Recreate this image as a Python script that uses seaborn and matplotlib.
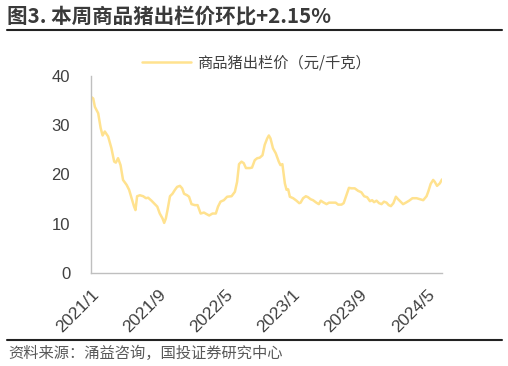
import matplotlib
matplotlib.use("Agg")
import matplotlib.pyplot as plt
import matplotlib.dates as mdates
import seaborn as sns
import pandas as pd

dates = [
    "2021-01-01", "2021-01-09", "2021-01-15", "2021-01-27", "2021-02-05", "2021-02-12",
    "2021-02-20", "2021-03-04", "2021-03-16", "2021-03-26", "2021-04-01", "2021-04-09",
    "2021-04-18", "2021-04-27", "2021-05-10", "2021-05-19", "2021-05-28", "2021-06-06",
    "2021-06-11", "2021-06-17", "2021-06-27", "2021-07-09", "2021-07-19", "2021-07-27",
    "2021-08-08", "2021-08-20", "2021-08-29", "2021-09-07", "2021-09-17", "2021-09-23",
    "2021-09-29", "2021-10-05", "2021-10-14", "2021-10-23", "2021-11-01", "2021-11-09",
    "2021-11-19", "2021-11-27", "2021-12-04", "2021-12-15", "2021-12-22", "2021-12-31",
    "2022-01-12", "2022-01-22", "2022-02-02", "2022-02-14", "2022-02-23", "2022-03-05",
    "2022-03-17", "2022-03-29", "2022-04-06", "2022-04-15", "2022-04-27", "2022-05-09",
    "2022-05-25", "2022-06-06", "2022-06-14", "2022-06-21", "2022-06-30", "2022-07-08",
    "2022-07-16", "2022-07-30", "2022-08-07", "2022-08-17", "2022-08-26", "2022-09-04",
    "2022-09-14", "2022-09-22", "2022-10-01", "2022-10-07", "2022-10-13", "2022-10-22",
    "2022-11-01", "2022-11-12", "2022-11-18", "2022-11-25", "2022-12-04", "2022-12-10",
    "2022-12-16", "2022-12-22", "2023-01-03", "2023-01-15", "2023-01-25", "2023-01-30",
    "2023-02-08", "2023-02-18", "2023-02-26", "2023-03-07", "2023-03-16", "2023-03-28",
    "2023-04-06", "2023-04-13", "2023-04-21", "2023-05-04", "2023-05-13", "2023-05-25",
    "2023-06-06", "2023-06-15", "2023-06-27", "2023-07-05", "2023-07-15", "2023-07-24",
    "2023-08-02", "2023-08-14", "2023-08-26", "2023-09-07", "2023-09-17", "2023-09-28",
    "2023-10-08", "2023-10-16", "2023-10-23", "2023-11-01", "2023-11-10", "2023-11-19",
    "2023-11-28", "2023-12-07", "2023-12-15", "2023-12-23", "2024-01-01", "2024-01-10",
    "2024-01-18", "2024-01-27", "2024-02-05", "2024-02-15", "2024-02-27", "2024-03-10",
    "2024-03-25", "2024-04-06", "2024-04-18", "2024-04-30", "2024-05-06", "2024-05-15",
    "2024-05-24", "2024-05-30", "2024-06-07", "2024-06-17", "2024-06-25",
]
prices = [
    35.7, 35.4, 33.7, 32.4, 29.4, 27.9,
    28.7, 27.7, 25.3, 22.6, 22.4, 23.3,
    21.9, 18.9, 17.9, 16.9, 15.2, 13.5,
    12.8, 15.6, 15.8, 15.6, 15.2, 15.3,
    14.7, 14.0, 13.5, 12.1, 11.1, 10.2,
    11.1, 12.8, 15.6, 16.1, 16.9, 17.5,
    17.7, 17.2, 16.1, 15.8, 15.5, 14.0,
    13.8, 13.8, 12.1, 12.3, 12.0, 11.7,
    12.1, 12.1, 13.5, 14.5, 14.8, 15.5,
    15.6, 16.5, 18.5, 22.1, 22.6, 22.3,
    21.3, 21.3, 21.4, 22.9, 23.3, 23.4,
    23.9, 26.0, 27.3, 27.9, 27.3, 25.3,
    24.3, 22.6, 21.9, 22.1, 18.2, 16.9,
    17.0, 15.5, 15.2, 14.7, 14.2, 14.3,
    15.2, 15.6, 15.4, 15.0, 14.8, 14.3,
    14.0, 14.7, 14.4, 14.0, 14.3, 14.3,
    14.3, 13.9, 13.9, 14.2, 15.8, 17.3,
    17.2, 17.2, 16.7, 16.4, 15.6, 15.4,
    14.6, 14.8, 14.4, 14.7, 14.2, 14.0,
    14.5, 14.3, 13.8, 13.6, 14.2, 15.5,
    15.0, 14.5, 14.0, 14.3, 14.7, 15.2,
    15.2, 15.0, 14.8, 15.6, 16.5, 18.1,
    18.9, 18.5, 17.7, 18.2, 19.0,
]
tick_dates = ["2021-01-01", "2021-09-01", "2022-05-01", "2023-01-01", "2023-09-01", "2024-05-01"]
tick_labels = ["2021/1", "2021/9", "2022/5", "2023/1", "2023/9", "2024/5"]
y_ticks = [0, 10, 20, 30, 40]
series_name = "商品猪出栏价（元/千克）"
title = "图3. 本周商品猪出栏价环比+2.15%"
source = "资料来源：涌益咨询，国投证券研究中心"

sns.set_style("white")
plt.rcParams["font.family"] = ["Liberation Sans", "Noto Sans CJK SC", "DejaVu Sans"]

df = pd.DataFrame({"date": pd.to_datetime(dates), "price": prices, "series": series_name})

fig = plt.figure(figsize=(5.08, 3.66), dpi=100)
ax = fig.add_axes([91 / 508, 1 - 273.3 / 366, (442 - 91) / 508, (273.3 - 75.7) / 366])

sns.lineplot(data=df, x="date", y="price", hue="series", palette=["#FFE28F"],
             linewidth=1.8, ax=ax, legend=True)

ax.set_xlim(pd.Timestamp("2021-01-01"), pd.Timestamp("2024-06-25"))
ax.set_ylim(0, 40)
ax.set_yticks(y_ticks)
ax.set_yticklabels([str(v) for v in y_ticks], fontsize=12, color="#404040")
ax.set_xticks(pd.to_datetime(tick_dates))
ax.set_xticklabels(tick_labels, rotation=45, ha="right", rotation_mode="anchor",
                   fontsize=12.5, color="#404040")
ax.set_xlabel("")
ax.set_ylabel("")

for s in ["top", "right"]:
    ax.spines[s].set_visible(False)
for s in ["left", "bottom"]:
    ax.spines[s].set_color("#BFBFBF")
    ax.spines[s].set_linewidth(1.0)
ax.tick_params(axis="both", which="major", length=5, width=0.9, color="#A6A6A6",
               direction="out", pad=3)
ax.tick_params(axis="y", pad=10)
ax.tick_params(axis="x", pad=4.5)
ax.grid(False)

leg = ax.legend(loc="center", bbox_to_anchor=(256 / 508, 1 - 63 / 366),
                bbox_transform=fig.transFigure, frameon=False,
                prop={"family": ["Noto Sans CJK SC"], "size": 11},
                handlelength=3.2, handletextpad=0.4)
for t in leg.get_texts():
    t.set_color("#404040")

fig.text(7 / 508, 1 - 16 / 366, title, fontsize=14.8, fontweight="bold",
         color="#3A3A3A", va="center", ha="left", family=["Noto Sans CJK SC"])
fig.add_artist(plt.Line2D([7 / 508, 502 / 508], [1 - 30 / 366, 1 - 30 / 366],
                          transform=fig.transFigure, color="#222222", linewidth=1.5))
fig.add_artist(plt.Line2D([7 / 508, 502 / 508], [1 - 339.5 / 366, 1 - 339.5 / 366],
                          transform=fig.transFigure, color="#222222", linewidth=1.5))
fig.text(8 / 508, 1 - 353 / 366, source, fontsize=11, color="#595959",
         va="center", ha="left", family=["Noto Sans CJK SC"], style="italic")

fig.savefig("out.png", dpi=100)
